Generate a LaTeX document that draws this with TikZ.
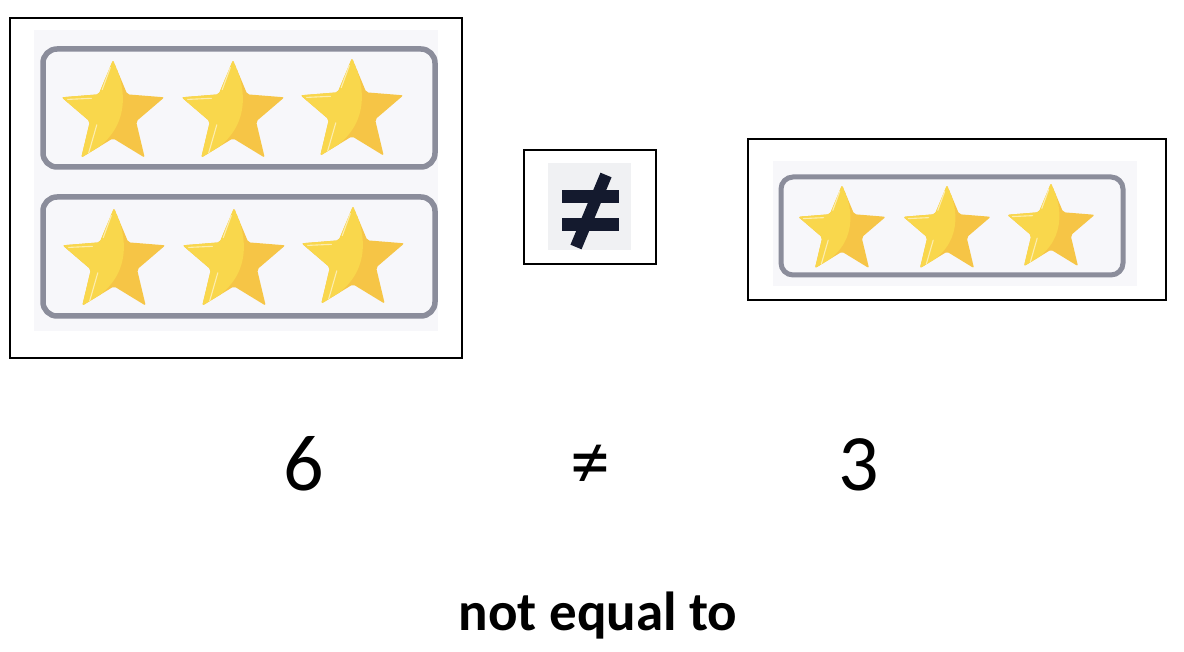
\documentclass[tikz,border=0pt]{standalone}
\usepackage{fontspec}
\setmainfont{Carlito}
\definecolor{starlight}{HTML}{F9D74C}
\definecolor{stardark}{HTML}{F6C546}
\definecolor{panelbg}{HTML}{F7F7FA}
\definecolor{framegray}{HTML}{8B8D9B}
\definecolor{symnavy}{HTML}{141A2E}
\definecolor{symbg}{HTML}{F0F1F3}
\tikzset{
  outerframe/.style={draw=black, line width=1.4pt},
  ratingframe/.style={draw=framegray, line width=5.5pt, rounded corners=14pt, fill=panelbg},
  numtext/.style={font=\fontsize{80}{96}\selectfont, inner sep=0pt, anchor=base},
  wordtext/.style={font=\fontsize{55}{66}\selectfont\bfseries, inner sep=0pt, anchor=base},
  shine/.style={draw=white, draw opacity=0.55, line width=1.1pt, line cap=round},
  pics/goldstar/.style={code={
    \begin{scope}
      \clip[rounded corners=2pt] (-90:#1) -- (-54:0.45*#1) -- (-18:#1) -- (18:0.45*#1) -- (54:#1) -- (90:0.45*#1) -- (126:#1) -- (162:0.45*#1) -- (198:#1) -- (234:0.45*#1) -- cycle;
      \fill[stardark] (-1.2*#1,-1.2*#1) rectangle (1.2*#1,1.2*#1);
      \fill[starlight] (0,-#1) .. controls (0.34*#1,-0.3*#1) and (0.24*#1,0.42*#1) .. (126:#1) -- (-1.2*#1,0.9*#1) -- (-1.2*#1,-1.2*#1) -- cycle;
    \end{scope}
    \draw[shine] (-0.84*#1,-0.27*#1) -- (-0.4*#1,-0.29*#1);
    \draw[shine] (-0.05*#1,-0.86*#1) -- (-0.2*#1,-0.45*#1);
    \draw[shine] (-0.3*#1,0.2*#1) -- (-0.45*#1,0.72*#1);
  }}
}
\begin{document}
\begin{tikzpicture}[x=1pt,y=-1pt]
\useasboundingbox (0,0) rectangle (1184,652);
\fill[white] (0,0) rectangle (1184,652);

% left panel: six stars
\draw[outerframe] (10,18) rectangle (462,358);
\fill[panelbg] (34,30) rectangle (438,331);
\draw[ratingframe] (43,49) rectangle (435,167);
\draw[ratingframe] (43,197) rectangle (435,316);
\pic at (113,114) {goldstar=54};
\pic at (233,114) {goldstar=54};
\pic at (352,112) {goldstar=54};
\pic at (114,262) {goldstar=54};
\pic at (234,262) {goldstar=54};
\pic at (353,260) {goldstar=54};

% middle panel: not-equal icon
\draw[outerframe] (524,150) rectangle (656,264);
\fill[symbg] (548,163) rectangle (631,250);
\fill[symnavy] (562,190) rectangle (619,203);
\fill[symnavy] (562,218) rectangle (619,231);
\draw[symnavy, line width=12pt] (576,247) -- (606,175);

% right panel: three stars
\draw[outerframe] (748,139) rectangle (1166,300);
\fill[panelbg] (773,161) rectangle (1137,286);
\draw[ratingframe, line width=5pt, rounded corners=12pt] (781,177) rectangle (1123,275);
\pic at (842,231) {goldstar=46};
\pic at (947,231) {goldstar=46};
\pic at (1051,229) {goldstar=46};

% texts
\node[numtext] (six) at (304,490) {6};
\node[font=\fontsize{80}{96}\selectfont, inner sep=0pt] (neq) at (590,467) {≠};
\node[numtext] (three) at (859,490) {3};
\node[wordtext] (label) at (598,630) {not equal to};
\end{tikzpicture}
\end{document}
